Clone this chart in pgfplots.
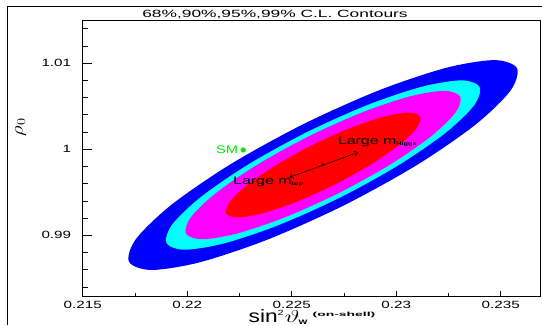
\documentclass[border=0pt]{standalone}
\usepackage{pgfplots}
\pgfplotsset{compat=1.18}
\usetikzlibrary{arrows.meta}
\usepackage{fontspec}
\setmainfont{Liberation Sans}[FakeStretch=1.45]
\usepackage{graphicx}
\definecolor{clA}{RGB}{0,0,255}
\definecolor{clB}{RGB}{0,255,255}
\definecolor{clC}{RGB}{255,0,255}
\definecolor{clD}{RGB}{255,0,0}
\definecolor{smgreen}{RGB}{0,235,0}
\newcommand{\tickfont}{\fontsize{10.5}{12}\selectfont}
\begin{document}
\begin{tikzpicture}
\path[use as bounding box] (0,0) rectangle (542pt,325pt);
\draw[line width=1pt] (7.6pt,0pt) -- (7.6pt,319pt) -- (542pt,319pt);
\node[font=\fontsize{10.5}{12}\selectfont] at (275pt,310.8pt) {\scalebox{1.14}[1]{68\%,90\%,95\%,99\% C.L. Contours}};
\node[rotate=90] at (20.5pt,198pt) {\fontsize{18}{18}\selectfont\scalebox{1.2}[1]{$\rho_{0}$}};
\node[anchor=base west, inner sep=0pt] at (248.5pt,2.8pt) {\scalebox{0.87}[1]{\fontsize{18}{18}\selectfont sin}\raisebox{7pt}{\fontsize{7.5}{7.5}\selectfont 2}\hspace{1pt}{\fontsize{16.5}{16.5}\selectfont\scalebox{1.5}[1]{$\vartheta$}}\hspace{-1pt}\raisebox{-2.5pt}{\fontsize{6.5}{6.5}\selectfont\bfseries W}\hspace{5pt}\raisebox{6pt}{\scalebox{1.6}[1]{\fontsize{6}{6}\selectfont\bfseries (on-shell)}}};
\begin{axis}[
  at={(82.7pt,29pt)}, anchor=south west,
  scale only axis, width=457.3pt, height=275.3pt,
  xmin=0.215, xmax=0.23688, ymin=0.982942, ymax=1.014953,
  xtick={0.215,0.22,0.225,0.23,0.235},
  xticklabels={0.215,0.22,0.225,0.23,0.235},
  ytick={0.99,1,1.01},
  yticklabels={0.99,1,1.01},
  minor xtick={0.2175,0.2225,0.2275,0.2325},
  minor ytick={0.984,0.986,0.988,0.992,0.994,0.996,0.998,1.002,1.004,1.006,1.008,1.012,1.014},
  tick align=inside, xtick pos=left, ytick pos=left,
  major tick length=9pt, minor tick length=5.7pt,
  xtick style={/pgfplots/major tick length=5.5pt,/pgfplots/minor tick length=2.8pt},
  every tick/.style={black, line width=0.8pt},
  axis line style={black, line width=0.9pt},
  tick label style={font=\tickfont},
  yticklabel style={xshift=-8pt},
  xticklabel style={inner sep=0pt, yshift=-5.3pt},
  axis on top,
]
\addplot[fill=clA, draw=none, smooth cycle] coordinates {
(0.235783,1.009419) (0.234705,1.010371) (0.232379,1.009465) (0.229156,1.006839)
(0.225531,1.002894) (0.222052,0.998229) (0.219250,0.993556) (0.217553,0.989585)
(0.217217,0.986921) (0.218295,0.985969) (0.220621,0.986875) (0.223844,0.989501)
(0.227469,0.993446) (0.230948,0.998111) (0.233750,1.002784) (0.235447,1.006755)};
\addplot[fill=clB, draw=none, smooth cycle] coordinates {
(0.233991,1.007248) (0.233121,1.008016) (0.231244,1.007285) (0.228643,1.005166)
(0.225718,1.001982) (0.222910,0.998218) (0.220649,0.994447) (0.219280,0.991242)
(0.219009,0.989092) (0.219879,0.988324) (0.221756,0.989055) (0.224357,0.991174)
(0.227282,0.994358) (0.230090,0.998122) (0.232351,1.001893) (0.233720,1.005098)};
\addplot[fill=clC, draw=none, smooth cycle] coordinates {
(0.233063,1.006123) (0.232301,1.006796) (0.230656,1.006156) (0.228378,1.004299)
(0.225815,1.001510) (0.223355,0.998212) (0.221374,0.994908) (0.220175,0.992100)
(0.219937,0.990217) (0.220699,0.989544) (0.222344,0.990184) (0.224622,0.992041)
(0.227185,0.994830) (0.229645,0.998128) (0.231626,1.001432) (0.232825,1.004240)};
\addplot[fill=clD, draw=none, smooth cycle] coordinates {
(0.231142,1.003795) (0.230603,1.004271) (0.229440,1.003818) (0.227828,1.002505)
(0.226016,1.000532) (0.224276,0.998200) (0.222875,0.995863) (0.222027,0.993878)
(0.221859,0.992546) (0.222398,0.992070) (0.223561,0.992523) (0.225172,0.993835)
(0.226984,0.995808) (0.228724,0.998141) (0.230125,1.000478) (0.230974,1.002463)};
\addplot[black, line width=0.5pt, {Straight Barb[length=3.5pt,width=5pt]}-{Straight Barb[length=3.5pt,width=5pt]}] coordinates {(0.22489,0.99674) (0.22819,0.99965)};
\addplot[only marks, mark=*, mark size=0.9pt, black] coordinates {(0.2265,0.99825)};
\addplot[only marks, mark=*, mark size=2.4pt, smgreen] coordinates {(0.22268,0.99992)};
\node[anchor=east, text=smgreen, font=\fontsize{11}{12}\selectfont, inner sep=0pt, xshift=-5pt] at (axis cs:0.22268,0.99992) {\scalebox{0.92}[1]{SM}};
\node[anchor=base west, inner sep=0pt, font=\fontsize{11}{12}\selectfont] at (axis cs:0.2272,1.0006) {Large m\raisebox{-1pt}{\fontsize{5}{5}\selectfont\bfseries Higgs}};
\node[anchor=base west, inner sep=0pt, font=\fontsize{11}{12}\selectfont] at (axis cs:0.22219,0.99585) {Large m\raisebox{-1pt}{\fontsize{5}{5}\selectfont\bfseries top}};
\end{axis}
\end{tikzpicture}
\end{document}
